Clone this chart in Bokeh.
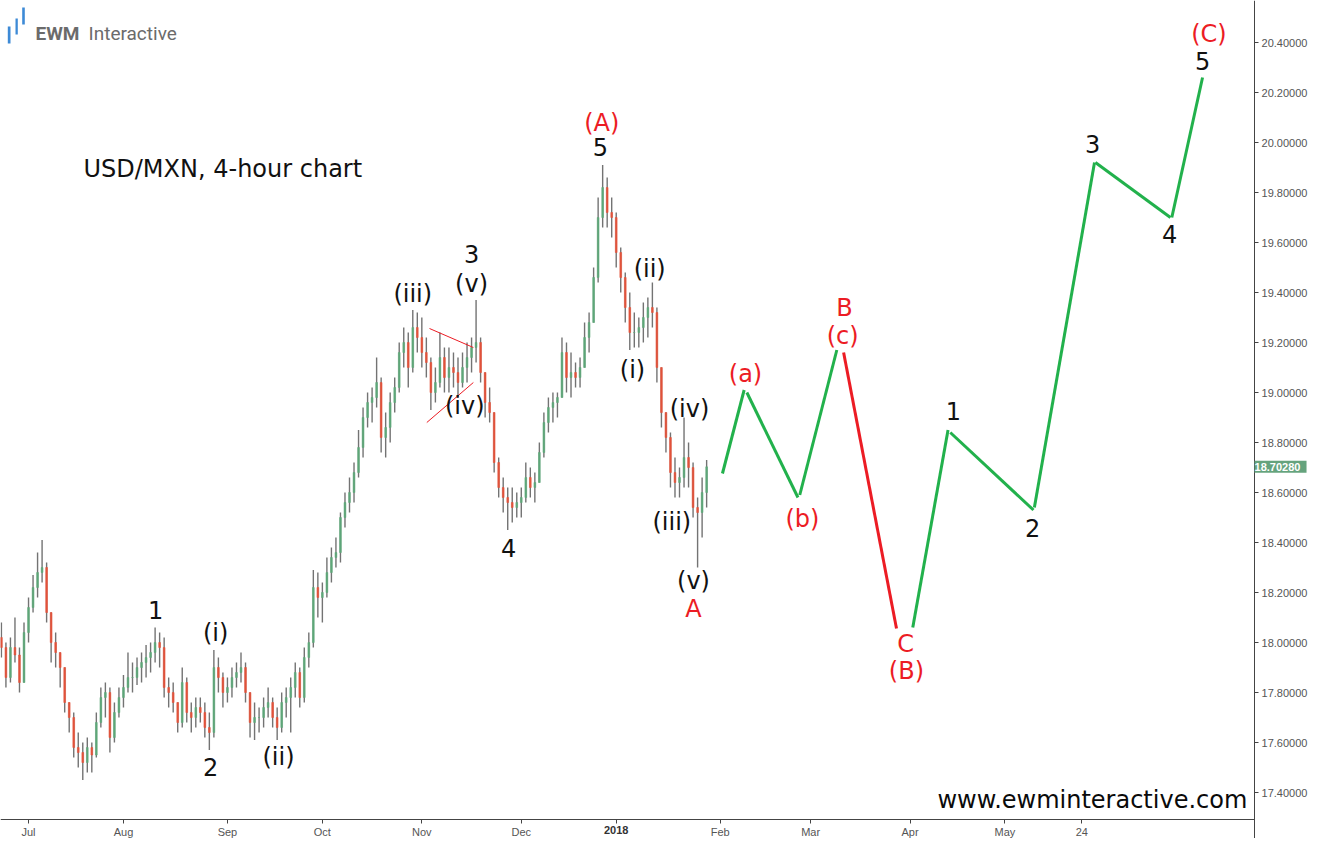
import pandas as pd
from bokeh.plotting import figure
from bokeh.models import (Range1d, LinearAxis, FixedTicker, NumeralTickFormatter,
                          Label, BoxAnnotation, ColumnDataSource)
from bokeh.core.properties import value
from bokeh.embed import file_html
from bokeh.resources import INLINE

# ---------------- data ----------------
start_date = "2017-06-23"          # first daily bar (trading days only)
first_open = 18.02
high = [18.08, 18.00, 18.02, 18.10, 17.98, 18.08, 18.18, 18.27, 18.36, 18.41,
        18.32, 18.10, 18.04, 17.96, 17.88, 17.76, 17.72, 17.64, 17.60, 17.62,
        17.60, 17.72, 17.82, 17.84, 17.82, 17.76, 17.82, 17.87, 17.96, 17.92,
        17.94, 17.96, 17.99, 18.00, 18.06, 18.04, 18.02, 17.86, 17.84, 17.74,
        17.90, 17.86, 17.76, 17.78, 17.78, 17.76, 17.72, 17.97, 17.94, 17.88,
        17.86, 17.90, 17.92, 17.96, 17.92, 17.80, 17.76, 17.74, 17.78, 17.82,
        17.78, 17.74, 17.80, 17.82, 17.86, 17.92, 17.90, 17.98, 18.04, 18.29,
        18.28, 18.24, 18.34, 18.38, 18.42, 18.52, 18.60, 18.66, 18.72, 18.85,
        18.94, 19.00, 19.02, 19.14, 19.06, 18.92, 19.00, 19.06, 19.20, 19.26,
        19.24, 19.33, 19.32, 19.30, 19.22, 19.14, 19.10, 19.24, 19.18, 19.18,
        19.16, 19.14, 19.16, 19.20, 19.22, 19.37, 19.22, 19.08, 19.02, 18.90,
        18.74, 18.66, 18.62, 18.62, 18.60, 18.62, 18.72, 18.70, 18.68, 18.80,
        18.92, 18.98, 19.00, 19.00, 19.22, 19.20, 19.16, 19.12, 19.14, 19.28,
        19.32, 19.50, 19.78, 19.91, 19.86, 19.78, 19.72, 19.58, 19.48, 19.40,
        19.32, 19.30, 19.36, 19.38, 19.44, 19.34, 19.08, 18.92, 18.84, 18.74,
        18.70, 18.90, 18.80, 18.72, 18.58, 18.66, 18.73]
low = [17.94, 17.82, 17.84, 17.92, 17.80, 17.84, 18.00, 18.12, 18.18, 18.24,
       18.08, 17.92, 17.90, 17.82, 17.72, 17.64, 17.54, 17.50, 17.45, 17.48,
       17.48, 17.54, 17.66, 17.70, 17.56, 17.60, 17.70, 17.74, 17.80, 17.80,
       17.83, 17.84, 17.86, 17.88, 17.92, 17.90, 17.78, 17.74, 17.72, 17.64,
       17.66, 17.68, 17.64, 17.66, 17.68, 17.62, 17.57, 17.62, 17.80, 17.74,
       17.76, 17.78, 17.82, 17.84, 17.76, 17.62, 17.61, 17.64, 17.66, 17.70,
       17.66, 17.61, 17.64, 17.70, 17.64, 17.78, 17.74, 17.76, 17.90, 17.98,
       18.10, 18.08, 18.18, 18.24, 18.30, 18.32, 18.46, 18.52, 18.56, 18.66,
       18.74, 18.86, 18.88, 18.94, 18.76, 18.74, 18.80, 18.92, 19.00, 19.10,
       19.02, 19.08, 19.16, 19.10, 19.06, 18.93, 18.96, 19.02, 19.00, 19.00,
       19.02, 18.98, 19.02, 19.04, 19.08, 19.12, 19.04, 18.90, 18.88, 18.68,
       18.58, 18.52, 18.45, 18.48, 18.50, 18.50, 18.56, 18.58, 18.56, 18.64,
       18.74, 18.84, 18.88, 18.90, 18.98, 19.00, 18.98, 19.02, 19.02, 19.14,
       19.16, 19.28, 19.44, 19.66, 19.66, 19.62, 19.50, 19.40, 19.28, 19.17,
       19.18, 19.18, 19.20, 19.22, 19.26, 19.04, 18.86, 18.76, 18.62, 18.58,
       18.58, 18.62, 18.62, 18.50, 18.30, 18.42, 18.54]
close = [17.98, 17.86, 17.98, 17.95, 17.84, 18.04, 18.14, 18.22, 18.28, 18.30,
         18.12, 18.00, 17.96, 17.90, 17.76, 17.70, 17.58, 17.56, 17.52, 17.58,
         17.55, 17.68, 17.78, 17.80, 17.62, 17.72, 17.78, 17.82, 17.86, 17.86,
         17.90, 17.92, 17.94, 17.96, 18.00, 17.98, 17.82, 17.80, 17.76, 17.68,
         17.84, 17.72, 17.70, 17.74, 17.72, 17.66, 17.64, 17.90, 17.86, 17.80,
         17.82, 17.86, 17.88, 17.90, 17.80, 17.68, 17.70, 17.70, 17.74, 17.76,
         17.70, 17.66, 17.76, 17.78, 17.82, 17.88, 17.78, 17.94, 18.00, 18.22,
         18.18, 18.20, 18.28, 18.34, 18.36, 18.50, 18.56, 18.60, 18.68, 18.78,
         18.90, 18.96, 18.98, 19.04, 18.82, 18.86, 18.96, 19.02, 19.16, 19.20,
         19.10, 19.26, 19.22, 19.16, 19.12, 19.00, 19.04, 19.14, 19.06, 19.10,
         19.08, 19.04, 19.10, 19.14, 19.18, 19.20, 19.08, 18.96, 18.92, 18.72,
         18.62, 18.58, 18.56, 18.54, 18.56, 18.58, 18.66, 18.62, 18.64, 18.76,
         18.88, 18.94, 18.96, 18.98, 19.16, 19.06, 19.08, 19.06, 19.10, 19.22,
         19.28, 19.46, 19.70, 19.82, 19.72, 19.70, 19.56, 19.46, 19.34, 19.24,
         19.24, 19.26, 19.30, 19.34, 19.32, 19.10, 18.92, 18.82, 18.68, 18.64,
         18.66, 18.74, 18.70, 18.54, 18.52, 18.60, 18.7028]
last_price = 18.7028

tick_dates = ["2017-07-03", "2017-08-01", "2017-09-01", "2017-10-02", "2017-11-01",
              "2017-12-01", "2018-01-01", "2018-02-01", "2018-03-01", "2018-04-02",
              "2018-05-01", "2018-05-24"]
tick_labels = ["Jul", "Aug", "Sep", "Oct", "Nov", "Dec", "2018", "Feb", "Mar",
               "Apr", "May", "24"]
price_ticks = [17.4, 17.6, 17.8, 18.0, 18.2, 18.4, 18.6, 18.8, 19.0, 19.2,
               19.4, 19.6, 19.8, 20.0, 20.2, 20.4]

# projected path legs (bar index / price), drawn as separate strokes
leg_x0 = [159.5, 164.9, 176.6, 186.3, 201.6, 209.9, 228.5, 242.0, 258.9]
leg_y0 = [18.676, 19.00, 18.59, 19.16, 18.06, 18.84, 18.54, 19.92, 19.70]
leg_x1 = [164.3, 176.2, 184.8, 198.0, 209.4, 228.3, 241.8, 258.6, 265.7]
leg_y1 = [19.01, 18.58, 19.17, 18.056, 18.85, 18.53, 19.92, 19.70, 20.26]
leg_col = ["green", "green", "green", "red", "green", "green", "green", "green", "green"]

# triangle lines of wave (iv)
tri_x0 = [94.7, 94.1]
tri_y0 = [19.256, 18.88]
tri_x1 = [104.4, 104.4]
tri_y1 = [19.18, 19.04]

# wave labels
lab_text = ["1", "2", "(i)", "(ii)", "(iii)", "3", "(v)", "(iv)", "4", "(A)", "5",
            "(ii)", "(i)", "(iv)", "(iii)", "(v)", "A", "(a)", "(b)", "B", "(c)",
            "C", "(B)", "1", "2", "3", "4", "5", "(C)"]
lab_x = [34.1, 46.3, 47.4, 61.3, 91.0, 104.0, 104.0, 102.5, 112.2, 132.8, 132.5,
         143.4, 139.6, 152.2, 148.3, 153.1, 153.1, 164.6, 177.2, 186.5, 186.1,
         200.0, 200.2, 210.6, 228.1, 241.4, 258.4, 265.7, 267.1]
lab_y = [18.132, 17.504, 18.04, 17.544, 19.396, 19.556, 19.436, 18.948, 18.38,
         20.08, 19.984, 19.496, 19.092, 18.936, 18.484, 18.248, 18.136, 19.076,
         18.496, 19.34, 19.228, 17.996, 17.888, 18.928, 18.46, 19.996, 19.636,
         20.328, 20.436]
lab_col = ["k", "k", "k", "k", "k", "k", "k", "k", "k", "r", "k",
           "k", "k", "k", "k", "k", "r", "r", "r", "r", "r",
           "r", "r", "k", "k", "k", "k", "k", "r"]

# ---------------- styles ----------------
RED = "#ec1c24"
GREEN = "#22b14c"
BLACK = "#111111"
UP = "#5ea779"
DOWN = "#e2533b"
WICK = "#737373"
W, H = 1311, 838
X0, X_AXIS, X1 = -0.2, 277.2, 289.8       # x range and price-axis location
Y0, Y_AXIS, Y1 = 17.216, 17.292, 20.568   # y range and time-axis location

# ---------------- build ----------------
n = len(close)
idx = list(range(n))
opens = [first_open] + close[:-1]
hi = [max(h, o, c) for h, o, c in zip(high, opens, close)]
lo = [min(l, o, c) for l, o, c in zip(low, opens, close)]
body_top = [max(o, c) for o, c in zip(opens, close)]
body_bot = [min(o, c) for o, c in zip(opens, close)]
body_col = [UP if c >= o else DOWN for o, c in zip(opens, close)]

dates = pd.bdate_range(start_date, "2018-08-31")
tick_idx = [int(dates.get_loc(pd.Timestamp(d))) for d in tick_dates]

p = figure(width=W, height=H, x_range=Range1d(X0, X1), y_range=Range1d(Y0, Y1),
           output_backend="svg", toolbar_location=None,
           x_axis_location=None, y_axis_location=None,
           min_border_left=0, min_border_top=0, min_border_right=0, min_border_bottom=0)
p.xgrid.visible = False
p.ygrid.visible = False
p.outline_line_color = None
p.background_fill_color = "white"
p.border_fill_color = "white"

AX = "#444444"
yax = LinearAxis(ticker=FixedTicker(ticks=price_ticks, minor_ticks=[]),
                 formatter=NumeralTickFormatter(format="0.00000"),
                 fixed_location=X_AXIS, bounds=(Y0, Y1))
yax.major_tick_out = 4
yax.major_tick_in = 0
yax.minor_tick_out = 0
yax.minor_tick_in = 0
yax.axis_line_color = AX
yax.major_tick_line_color = AX
yax.major_label_text_font = "Liberation Sans"
yax.major_label_text_font_size = "11px"
yax.major_label_text_color = "#555555"
yax.major_label_standoff = 3
p.add_layout(yax, "right")

overrides = {t: l for t, l in zip(tick_idx, tick_labels)}
bold_year = tick_idx[tick_labels.index("2018")]
overrides[bold_year] = ""
xax = LinearAxis(ticker=FixedTicker(ticks=tick_idx, minor_ticks=[]),
                 fixed_location=Y_AXIS, bounds=(X0, X_AXIS))
xax.major_label_overrides = overrides
xax.major_tick_out = 4
xax.major_tick_in = 0
xax.minor_tick_out = 0
xax.minor_tick_in = 0
xax.axis_line_color = AX
xax.major_tick_line_color = AX
xax.major_label_text_font = "Liberation Sans"
xax.major_label_text_font_size = "11px"
xax.major_label_text_color = "#555555"
xax.major_label_standoff = 2
p.add_layout(xax, "below")
p.add_layout(Label(x=bold_year, y=13, x_units="data", y_units="screen", text="2018",
                   text_font="Liberation Sans", text_font_size="11px",
                   text_font_style="bold", text_color="#333333",
                   text_align="center", text_baseline="top"))

# candles
p.segment(x0=idx, y0=lo, x1=idx, y1=hi, line_color=WICK, line_width=1.4)
p.vbar(x=idx, top=body_top, bottom=body_bot, width=0.38, fill_color=body_col,
       line_color=body_col, line_width=0.6)

# triangle
p.segment(x0=tri_x0, y0=tri_y0, x1=tri_x1, y1=tri_y1, line_color=RED, line_width=1)

# projection
cmap = {"green": GREEN, "red": RED}
p.segment(x0=leg_x0, y0=leg_y0, x1=leg_x1, y1=leg_y1,
          line_color=[cmap[c] for c in leg_col], line_width=3)

# wave labels
lsrc = ColumnDataSource(dict(x=lab_x, y=lab_y, text=lab_text,
                             color=[RED if c == "r" else BLACK for c in lab_col]))
p.text(x="x", y="y", text="text", text_color="color", source=lsrc,
       text_font=value("DejaVu Sans"), text_font_size="24px",
       text_align="center", text_baseline="middle")

# title
p.add_layout(Label(x=83, y=H - 168, x_units="screen", y_units="screen",
                   text="USD/MXN, 4-hour chart", text_font="DejaVu Sans",
                   text_font_size="24px", text_color=BLACK, text_baseline="alphabetic"))

# logo
for l, r, t, b in [(7.3, 10.0, 26, 43), (15.0, 17.3, 18, 34), (21.7, 24.3, 7, 24)]:
    p.add_layout(BoxAnnotation(left=l, right=r, top=H - t, bottom=H - b,
                               left_units="screen", right_units="screen",
                               top_units="screen", bottom_units="screen",
                               fill_color="#3d8ad6", fill_alpha=1.0, line_color=None))
p.add_layout(Label(x=35, y=H - 33, x_units="screen", y_units="screen", text="EWM",
                   text_font="Roboto", text_font_style="bold", text_font_size="19px",
                   text_color="#6b6b6b", text_baseline="alphabetic"))
p.add_layout(Label(x=88, y=H - 33, x_units="screen", y_units="screen", text="Interactive",
                   text_font="Roboto", text_font_size="19px",
                   text_color="#6b6b6b", text_baseline="alphabetic"))

# website
p.add_layout(Label(x=X_AXIS - 1.6, y=25, x_units="data", y_units="screen",
                   text="www.ewminteractive.com", text_font="DejaVu Sans",
                   text_font_size="24px", text_color="#0a0a0a",
                   text_align="right", text_baseline="bottom"))

# last price tag on the price axis
p.add_layout(Label(x=X_AXIS, y=last_price, x_units="data", y_units="data",
                   text=f" {last_price:.5f} ", text_font="Liberation Sans",
                   text_font_size="11px", text_font_style="bold", text_color="white",
                   background_fill_color="#65a37d", text_align="left",
                   text_baseline="middle"))

open("out.html", "w").write(file_html(p, INLINE))
